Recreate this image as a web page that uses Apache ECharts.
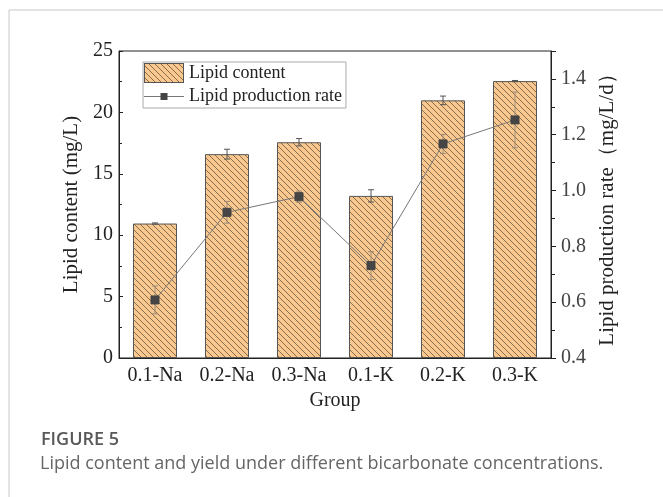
<!DOCTYPE html>
<html>
<head>
<meta charset="utf-8">
<script src="https://cdn.jsdelivr.net/npm/echarts@6/dist/echarts.min.js"></script>
<style>
  html, body { margin: 0; padding: 0; background: #fff; }
  #chart { width: 663px; height: 497px; }
</style>
</head>
<body>
<div id="chart"></div>
<script>
// Groups and measured values
var categories = ['0.1-Na', '0.2-Na', '0.3-Na', '0.1-K', '0.2-K', '0.3-K'];
var lipidContent = [10.95, 16.6, 17.57, 13.2, 20.98, 22.55];      // mg/L
var lipidContentErr = [0.05, 0.4, 0.3, 0.5, 0.35, 0.05];
var productionRate = [0.608, 0.922, 0.978, 0.731, 1.167, 1.253];  // mg/L/d
var productionRateErr = [0.05, 0.039, 0.02, 0.05, 0.034, 0.1];

var serif = 'Liberation Serif, Times New Roman, serif';
var HATCH_FILL = '#F9C88E';
var HATCH_LINE = '#6b5540';

// Draws "\" hatching onto a 2d context over a w x h area
function drawHatch(g, w, h, step) {
  g.fillStyle = HATCH_FILL;
  g.fillRect(0, 0, w, h);
  g.strokeStyle = HATCH_LINE;
  g.lineWidth = 0.8;
  g.beginPath();
  for (var k = -h; k < w + h; k += step) {
    g.moveTo(k, 0);
    g.lineTo(k + h, h);
  }
  g.stroke();
}

// Repeating hatch pattern for the bars
function hatchPattern() {
  var s = 6;
  var c = document.createElement('canvas');
  c.width = s; c.height = s;
  var g = c.getContext('2d');
  g.fillStyle = HATCH_FILL;
  g.fillRect(0, 0, s, s);
  g.strokeStyle = HATCH_LINE;
  g.lineWidth = 0.8;
  g.beginPath();
  g.moveTo(-1, -1); g.lineTo(s + 1, s + 1);
  g.moveTo(-1, s - 1); g.lineTo(1, s + 1);
  g.moveTo(s - 1, -1); g.lineTo(s + 1, 1);
  g.stroke();
  return { image: c, repeat: 'repeat' };
}

// Legend swatches
function barLegendIcon() {
  var c = document.createElement('canvas');
  c.width = 40; c.height = 20;
  var g = c.getContext('2d');
  drawHatch(g, 40, 20, 6);
  g.strokeStyle = '#555';
  g.lineWidth = 1;
  g.strokeRect(0.5, 0.5, 39, 19);
  return 'image://' + c.toDataURL();
}
function lineLegendIcon() {
  var c = document.createElement('canvas');
  c.width = 40; c.height = 20;
  var g = c.getContext('2d');
  g.strokeStyle = '#777';
  g.lineWidth = 1;
  g.beginPath();
  g.moveTo(0, 10.5); g.lineTo(40, 10.5);
  g.stroke();
  g.fillStyle = '#454545';
  g.fillRect(16.5, 7, 7, 7);
  return 'image://' + c.toDataURL();
}

function errData(vals, errs) {
  return vals.map(function (v, i) { return [i, v - errs[i], v + errs[i]]; });
}

function errorBarRenderer(color, cap) {
  return function (params, api) {
    var x = api.value(0);
    var lo = api.coord([x, api.value(1)]);
    var hi = api.coord([x, api.value(2)]);
    var style = { stroke: color, lineWidth: 1 };
    return {
      type: 'group',
      children: [
        { type: 'line', shape: { x1: lo[0], y1: lo[1], x2: hi[0], y2: hi[1] }, style: style },
        { type: 'line', shape: { x1: hi[0] - cap, y1: hi[1], x2: hi[0] + cap, y2: hi[1] }, style: style },
        { type: 'line', shape: { x1: lo[0] - cap, y1: lo[1], x2: lo[0] + cap, y2: lo[1] }, style: style }
      ]
    };
  };
}

var chart = echarts.init(document.getElementById('chart'), null, { renderer: 'canvas' });

chart.setOption({
  backgroundColor: '#fff',
  animation: false,
  grid: {
    left: 119, right: 112, top: 51, bottom: 139,
    show: true, borderColor: '#222', borderWidth: 1, backgroundColor: 'transparent'
  },
  legend: {
    orient: 'vertical',
    left: 143, top: 62,
    itemWidth: 40, itemHeight: 20, itemGap: 3,
    padding: [1, 4, 2, 1],
    borderColor: '#aaa', borderWidth: 1,
    textStyle: { fontFamily: serif, fontSize: 18, color: '#222' },
    data: [
      { name: 'Lipid content', icon: barLegendIcon() },
      { name: 'Lipid production rate', icon: lineLegendIcon() }
    ]
  },
  xAxis: [{
    type: 'category',
    data: categories,
    name: 'Group',
    nameLocation: 'middle',
    nameGap: 28,
    nameTextStyle: { fontFamily: serif, fontSize: 20, color: '#222' },
    axisLine: { lineStyle: { color: '#222', width: 1 } },
    axisTick: { inside: true, length: 4, alignWithLabel: true, lineStyle: { color: '#222' } },
    axisLabel: { fontFamily: serif, fontSize: 20, color: '#222', margin: 8 }
  }, {
    type: 'category',
    data: categories,
    position: 'bottom',
    axisLine: { show: false },
    axisTick: { inside: true, length: 3, lineStyle: { color: '#222' } },
    axisLabel: { show: false }
  }],
  yAxis: [{
    type: 'value',
    min: 0, max: 25, interval: 5,
    name: 'Lipid content (mg/L)',
    nameLocation: 'middle',
    nameGap: 32,
    nameTextStyle: { fontFamily: serif, fontSize: 21, color: '#222' },
    axisLine: { show: true, lineStyle: { color: '#222', width: 1 } },
    axisTick: { show: true, inside: true, length: 4, lineStyle: { color: '#222' } },
    minorTick: { show: true, splitNumber: 2, length: 3, lineStyle: { color: '#222' } },
    splitLine: { show: false },
    axisLabel: { fontFamily: serif, fontSize: 20, color: '#222', margin: 6 }
  }, {
    type: 'value',
    position: 'right',
    min: 0.4, max: 1.5, interval: 0.2,
    name: 'Lipid production rate（mg/L/d）',
    nameLocation: 'middle',
    nameGap: 42,
    nameRotate: 90,
    nameTextStyle: { fontFamily: serif, fontSize: 21, color: '#222' },
    axisLine: { show: true, lineStyle: { color: '#222', width: 1 } },
    axisTick: { show: true, length: 5, lineStyle: { color: '#222' } },
    minorTick: { show: true, splitNumber: 2, length: 4, lineStyle: { color: '#222' } },
    splitLine: { show: false },
    axisLabel: {
      fontFamily: serif, fontSize: 20, color: '#444', margin: 10,
      showMaxLabel: false,
      formatter: function (v) { return v.toFixed(1); }
    }
  }],
  series: [{
    name: 'Lipid content',
    type: 'bar',
    barWidth: 44,
    data: lipidContent,
    itemStyle: { color: hatchPattern(), borderColor: '#555', borderWidth: 1 }
  }, {
    type: 'custom',
    name: 'contentErr',
    renderItem: errorBarRenderer('#555', 3),
    data: errData(lipidContent, lipidContentErr),
    encode: { x: 0, y: [1, 2] },
    z: 3,
    silent: true
  }, {
    name: 'Lipid production rate',
    type: 'line',
    yAxisIndex: 1,
    data: productionRate,
    symbol: 'rect',
    symbolSize: 8,
    lineStyle: { color: '#777', width: 1 },
    itemStyle: { color: '#454545', borderColor: '#454545' },
    z: 5
  }, {
    type: 'custom',
    name: 'rateErr',
    yAxisIndex: 1,
    renderItem: errorBarRenderer('#9c8d7a', 3),
    data: errData(productionRate, productionRateErr),
    encode: { x: 0, y: [1, 2] },
    z: 4,
    silent: true
  }],
  graphic: [{
    type: 'polyline',
    shape: { points: [[9, 497], [9, 10], [663, 10]] },
    style: { stroke: '#c8c8c8', lineWidth: 1, fill: null }
  }, {
    type: 'text',
    left: 41, top: 431,
    style: { text: 'FIGURE 5', font: '600 18px "Open Sans", sans-serif', fill: '#595959' }
  }, {
    type: 'text',
    left: 40, top: 455,
    style: { text: 'Lipid content and yield under different bicarbonate concentrations.', font: '18px "Open Sans", sans-serif', fill: '#666' }
  }]
});
</script>
</body>
</html>
